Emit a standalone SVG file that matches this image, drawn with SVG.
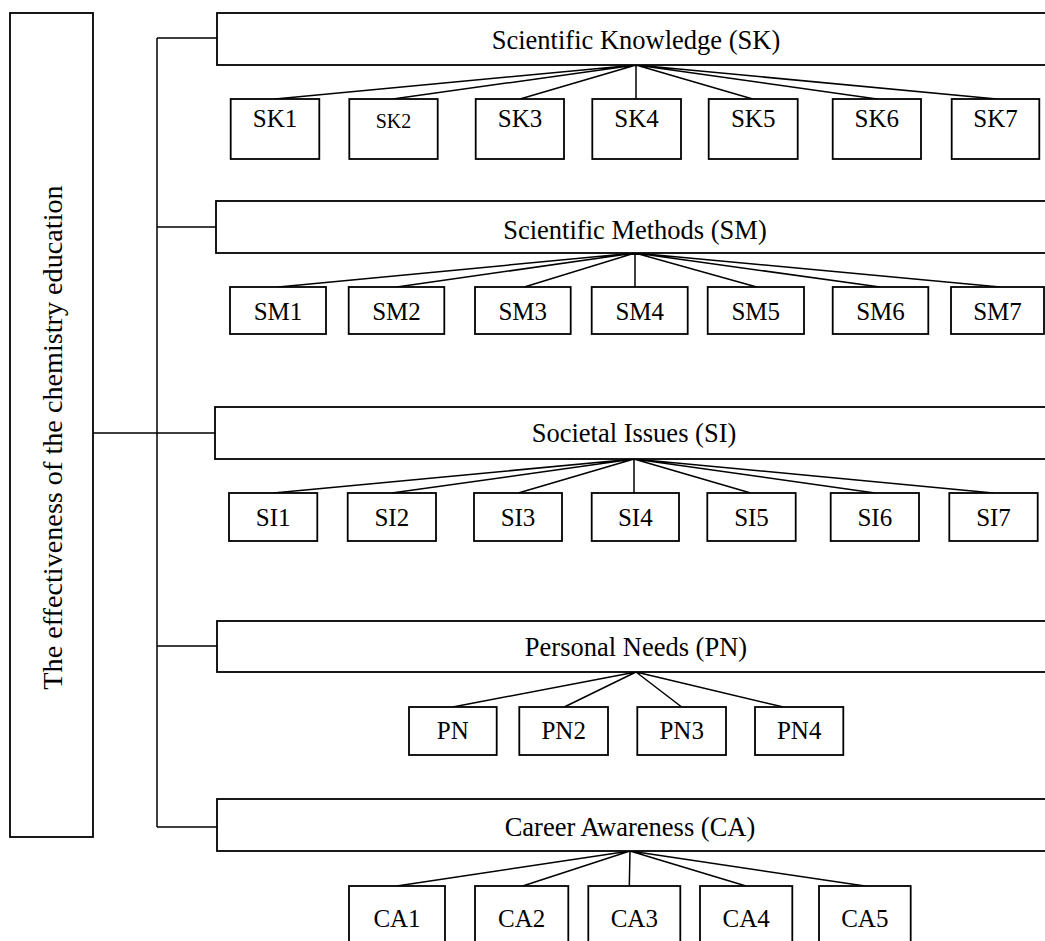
<svg xmlns="http://www.w3.org/2000/svg" width="1045" height="941" viewBox="0 0 1045 941">
<style>
.box{fill:#fff;stroke:#000;stroke-width:1.8}
.ln{fill:none;stroke:#000;stroke-width:1.5}
.hd{font-family:"Liberation Serif","Times New Roman",serif;font-size:26.5px;text-anchor:middle;fill:#000}
.vt{font-family:"Liberation Serif","Times New Roman",serif;font-size:28.2px;text-anchor:middle;fill:#000}
.lb{font-family:"Liberation Serif","Times New Roman",serif;font-size:25px;text-anchor:middle;fill:#000}
.sm{font-family:"Liberation Serif","Times New Roman",serif;font-size:20px;text-anchor:middle;fill:#000}
</style>
<rect width="1045" height="941" fill="#fff"/>
<g id="connectors" class="ln">
<path d="M93 433H215M157 38V827M157 38H217M157 227H216M157 646H217M157 827H217"/>
<path d="M636 65L275 99M636 65L392.7 99M636 65L520 99M636 65V99M636 65L752.7 99M636 65L877 99M636 65L996.7 99"/>
<path d="M635 253L278.3 287M635 253L396.7 287M635 253L524.3 287M635 253V287M635 253L756.7 287M635 253L880 287M635 253L1000 287"/>
<path d="M634 459L273.3 493M634 459L391.7 493M634 459L518.3 493M634 459V493M634 459L750.7 493M634 459L875 493M634 459L993.3 493"/>
<path d="M636 672L452.7 707M636 672L564.3 707M636 672L681.7 707M636 672L783.3 707"/>
<path d="M630 851L396.7 886M630 851L522.7 886M630 851L629.3 886M630 851L746 886M630 851L865 886"/>
</g>
<g id="root"><rect class="box" x="10" y="13" width="83" height="824"/>
<text class="vt" transform="translate(62 437.5) rotate(-90)">The effectiveness of the chemistry education</text></g>
<g id="SK"><rect class="box" x="217" y="13" width="838" height="52"/><text class="hd" x="636" y="49">Scientific Knowledge (SK)</text></g>
<g id="SM"><rect class="box" x="216" y="201" width="839" height="52"/><text class="hd" x="635" y="239">Scientific Methods (SM)</text></g>
<g id="SI"><rect class="box" x="215" y="407" width="840" height="52"/><text class="hd" x="634" y="442">Societal Issues (SI)</text></g>
<g id="PN"><rect class="box" x="217" y="621" width="838" height="51"/><text class="hd" x="636" y="656">Personal Needs (PN)</text></g>
<g id="CA"><rect class="box" x="217" y="799" width="838" height="52"/><text class="hd" x="630" y="836">Career Awareness (CA)</text></g>
<g id="SK1"><rect class="box" x="230.7" y="99" width="88.6" height="60"/><text class="lb" x="275" y="127">SK1</text></g>
<g id="SK2"><rect class="box" x="349.3" y="99" width="88.4" height="60"/><text class="sm" x="393.5" y="128">SK2</text></g>
<g id="SK3"><rect class="box" x="475.7" y="99" width="88.3" height="60"/><text class="lb" x="520" y="127">SK3</text></g>
<g id="SK4"><rect class="box" x="592.3" y="99" width="88.7" height="60"/><text class="lb" x="636.6" y="127">SK4</text></g>
<g id="SK5"><rect class="box" x="708.7" y="99" width="89" height="60"/><text class="lb" x="753.2" y="127">SK5</text></g>
<g id="SK6"><rect class="box" x="832.7" y="99" width="88.3" height="60"/><text class="lb" x="876.8" y="127">SK6</text></g>
<g id="SK7"><rect class="box" x="951.7" y="99" width="87.6" height="60"/><text class="lb" x="995.5" y="127">SK7</text></g>
<g id="SM1"><rect class="box" x="230" y="287" width="96" height="47"/><text class="lb" x="278" y="320">SM1</text></g>
<g id="SM2"><rect class="box" x="348.7" y="287" width="95.6" height="47"/><text class="lb" x="396.5" y="320">SM2</text></g>
<g id="SM3"><rect class="box" x="475" y="287" width="95.7" height="47"/><text class="lb" x="522.8" y="320">SM3</text></g>
<g id="SM4"><rect class="box" x="591.7" y="287" width="96" height="47"/><text class="lb" x="639.7" y="320">SM4</text></g>
<g id="SM5"><rect class="box" x="707.7" y="287" width="96.3" height="47"/><text class="lb" x="755.8" y="320">SM5</text></g>
<g id="SM6"><rect class="box" x="832.7" y="287" width="95.6" height="47"/><text class="lb" x="880.5" y="320">SM6</text></g>
<g id="SM7"><rect class="box" x="951" y="287" width="93" height="47"/><text class="lb" x="997.5" y="320">SM7</text></g>
<g id="SI1"><rect class="box" x="229" y="493" width="88.3" height="48"/><text class="lb" x="273.2" y="526">SI1</text></g>
<g id="SI2"><rect class="box" x="347.7" y="493" width="88.3" height="48"/><text class="lb" x="391.8" y="526">SI2</text></g>
<g id="SI3"><rect class="box" x="474" y="493" width="88" height="48"/><text class="lb" x="518" y="526">SI3</text></g>
<g id="SI4"><rect class="box" x="591.7" y="493" width="87.3" height="48"/><text class="lb" x="635.3" y="526">SI4</text></g>
<g id="SI5"><rect class="box" x="707.3" y="493" width="88.4" height="48"/><text class="lb" x="751.5" y="526">SI5</text></g>
<g id="SI6"><rect class="box" x="830.7" y="493" width="88.3" height="48"/><text class="lb" x="874.8" y="526">SI6</text></g>
<g id="SI7"><rect class="box" x="949.3" y="493" width="88.4" height="48"/><text class="lb" x="993.5" y="526">SI7</text></g>
<g id="PN1"><rect class="box" x="409" y="707" width="87.7" height="48"/><text class="lb" x="452.8" y="739">PN</text></g>
<g id="PN2"><rect class="box" x="519.3" y="707" width="88.7" height="48"/><text class="lb" x="563.7" y="739">PN2</text></g>
<g id="PN3"><rect class="box" x="637.3" y="707" width="88.7" height="48"/><text class="lb" x="681.7" y="739">PN3</text></g>
<g id="PN4"><rect class="box" x="755" y="707" width="88.3" height="48"/><text class="lb" x="799.2" y="739">PN4</text></g>
<g id="CA1"><rect class="box" x="349" y="886" width="96" height="62"/><text class="lb" x="397" y="926.5">CA1</text></g>
<g id="CA2"><rect class="box" x="475" y="886" width="93.3" height="62"/><text class="lb" x="521.7" y="926.5">CA2</text></g>
<g id="CA3"><rect class="box" x="588.3" y="886" width="92" height="62"/><text class="lb" x="634.3" y="926.5">CA3</text></g>
<g id="CA4"><rect class="box" x="700" y="886" width="92.3" height="62"/><text class="lb" x="746.2" y="926.5">CA4</text></g>
<g id="CA5"><rect class="box" x="819" y="886" width="91.7" height="62"/><text class="lb" x="864.8" y="926.5">CA5</text></g>
</svg>
